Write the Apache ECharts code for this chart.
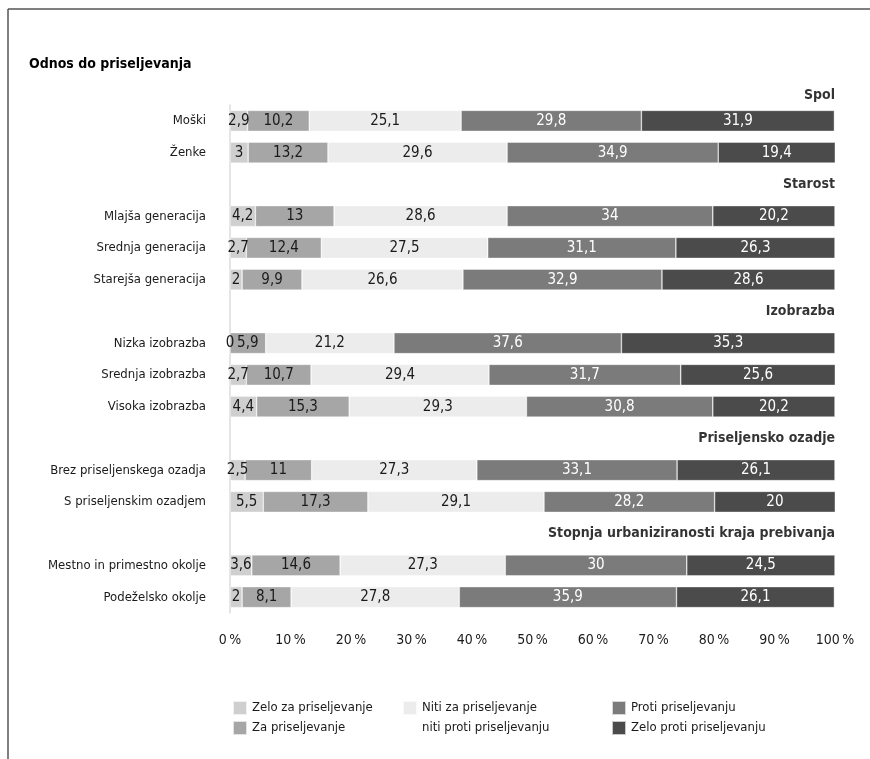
<!DOCTYPE html>
<html>
<head>
<meta charset="utf-8">
<script src="https://cdn.jsdelivr.net/npm/echarts@6/dist/echarts.min.js"></script>
<style>html,body{margin:0;padding:0;background:#fff}#c{width:870px;height:759px}</style>
</head>
<body>
<div id="c"></div>
<script>
const FONT = '"Liberation Sans Narrow","DejaVu Sans Condensed","Roboto Condensed",sans-serif';

const categories = ['Moški','Ženke','Starost','Mlajša generacija','Srednja generacija','Starejša generacija','Izobrazba','Nizka izobrazba','Srednja izobrazba','Visoka izobrazba','Priseljensko ozadje','Brez priseljenskega ozadja','S priseljenskim ozadjem','Stopnja urbaniziranosti kraja prebivanja','Mestno in primestno okolje','Podeželsko okolje'];
const headers = ['Starost','Izobrazba','Priseljensko ozadje','Stopnja urbaniziranosti kraja prebivanja'];
const topHeader = 'Spol';

const seriesNames = ['Zelo za priseljevanje','Za priseljevanje','Niti za priseljevanje\nniti proti priseljevanju','Proti priseljevanju','Zelo proti priseljevanju'];
const zeloZa    = [2.9, 3,    '-', 4.2, 2.7, 2,    '-', 0,    2.7, 4.4, '-', 2.5, 5.5, '-', 3.6, 2];
const za        = [10.2,13.2, '-', 13,  12.4, 9.9, '-', 5.9,  10.7,15.3,'-', 11,  17.3,'-', 14.6,8.1];
const niti      = [25.1,29.6, '-', 28.6,27.5, 26.6,'-', 21.2, 29.4,29.3,'-', 27.3,29.1,'-', 27.3,27.8];
const proti     = [29.8,34.9, '-', 34,  31.1, 32.9,'-', 37.6, 31.7,30.8,'-', 33.1,28.2,'-', 30,  35.9];
const zeloProti = [31.9,19.4, '-', 20.2,26.3, 28.6,'-', 35.3, 25.6,20.2,'-', 26.1,20,  '-', 24.5,26.1];
const xTicks = [0,10,20,30,40,50,60,70,80,90,100];

const colors = ['#cfcfcf','#a6a6a6','#ececec','#7b7b7b','#4b4b4b'];
const labelColors = ['#1a1a1a','#1a1a1a','#1a1a1a','#ffffff','#ffffff'];
const values = [zeloZa, za, niti, proti, zeloProti];

const chart = echarts.init(document.getElementById('c'), null, {renderer:'canvas'});

const barSeries = values.map((arr, i) => ({
  name: seriesNames[i],
  type: 'bar',
  stack: 'total',
  barWidth: 21,
  data: arr,
  itemStyle: {color: colors[i], borderColor: 'rgba(255,255,255,0.7)', borderWidth: 0.6},
  label: {
    show: true, position: 'inside',
    color: labelColors[i], fontFamily: FONT, fontSize: 15,
    formatter: p => String(p.value).replace('.', ',')
  },
  emphasis: {disabled: true},
  animation: false
}));

const headerSeries = {
  type: 'scatter',
  symbolSize: 0,
  silent: true,
  data: headers.map(h => [100, h]).concat([{value:[100, categories[0]], label:{offset:[0,-26]}}]),
  label: {
    show: true, position: 'left', distance: 0,
    fontFamily: FONT, fontSize: 14, fontWeight: 'bold', color: '#000',
    formatter: p => p.dataIndex < headers.length ? headers[p.dataIndex] : topHeader
  },
  animation: false
};

const legendCommon = {
  orient: 'vertical', itemWidth: 14, itemHeight: 14, itemGap: 0,
  icon: 'rect',
  textStyle: {fontFamily: FONT, fontSize: 13, color: '#1a1a1a', lineHeight: 20},
  selectedMode: false
};

chart.setOption({
  animation: false,
  backgroundColor: '#fff',
  title: {
    text: 'Odnos do priseljevanja', left: 24, top: 52,
    textStyle: {fontFamily: FONT, fontSize: 14, fontWeight: 'bold', color: '#000'}
  },
  grid: {left: 230, right: 35, top: 105, bottom: 146, containLabel: false},
  xAxis: {
    type: 'value', min: 0, max: 100, interval: 10,
    axisLine: {show: false}, axisTick: {show: false}, splitLine: {show: false},
    axisLabel: {formatter: v => v + '\u2009%', fontFamily: FONT, fontSize: 14, color: '#1a1a1a', margin: 20},
    data: xTicks
  },
  yAxis: {
    type: 'category', inverse: true, data: categories,
    axisLine: {show: true, lineStyle: {color: '#dcdcdc', width: 1.5}},
    axisTick: {show: false},
    axisLabel: {
      fontFamily: FONT, fontSize: 13, color: '#1a1a1a', margin: 24,
      formatter: v => headers.includes(v) ? '' : v
    }
  },
  legend: [
    Object.assign({}, legendCommon, {left: 227, top: 693, data: [seriesNames[0], seriesNames[1]]}),
    Object.assign({}, legendCommon, {left: 397, top: 673, data: [seriesNames[2]],
      formatter: name => ' \n' + name}),
    Object.assign({}, legendCommon, {left: 606, top: 693, data: [seriesNames[3], seriesNames[4]]})
  ],
  graphic: [
    {type: 'line', shape: {x1: 8, y1: 9, x2: 870, y2: 9}, style: {stroke: '#555', lineWidth: 1.5}, silent: true},
    {type: 'line', shape: {x1: 8, y1: 9, x2: 8, y2: 759}, style: {stroke: '#555', lineWidth: 1.5}, silent: true}
  ],
  series: barSeries.concat([headerSeries])
});
</script>
</body>
</html>
